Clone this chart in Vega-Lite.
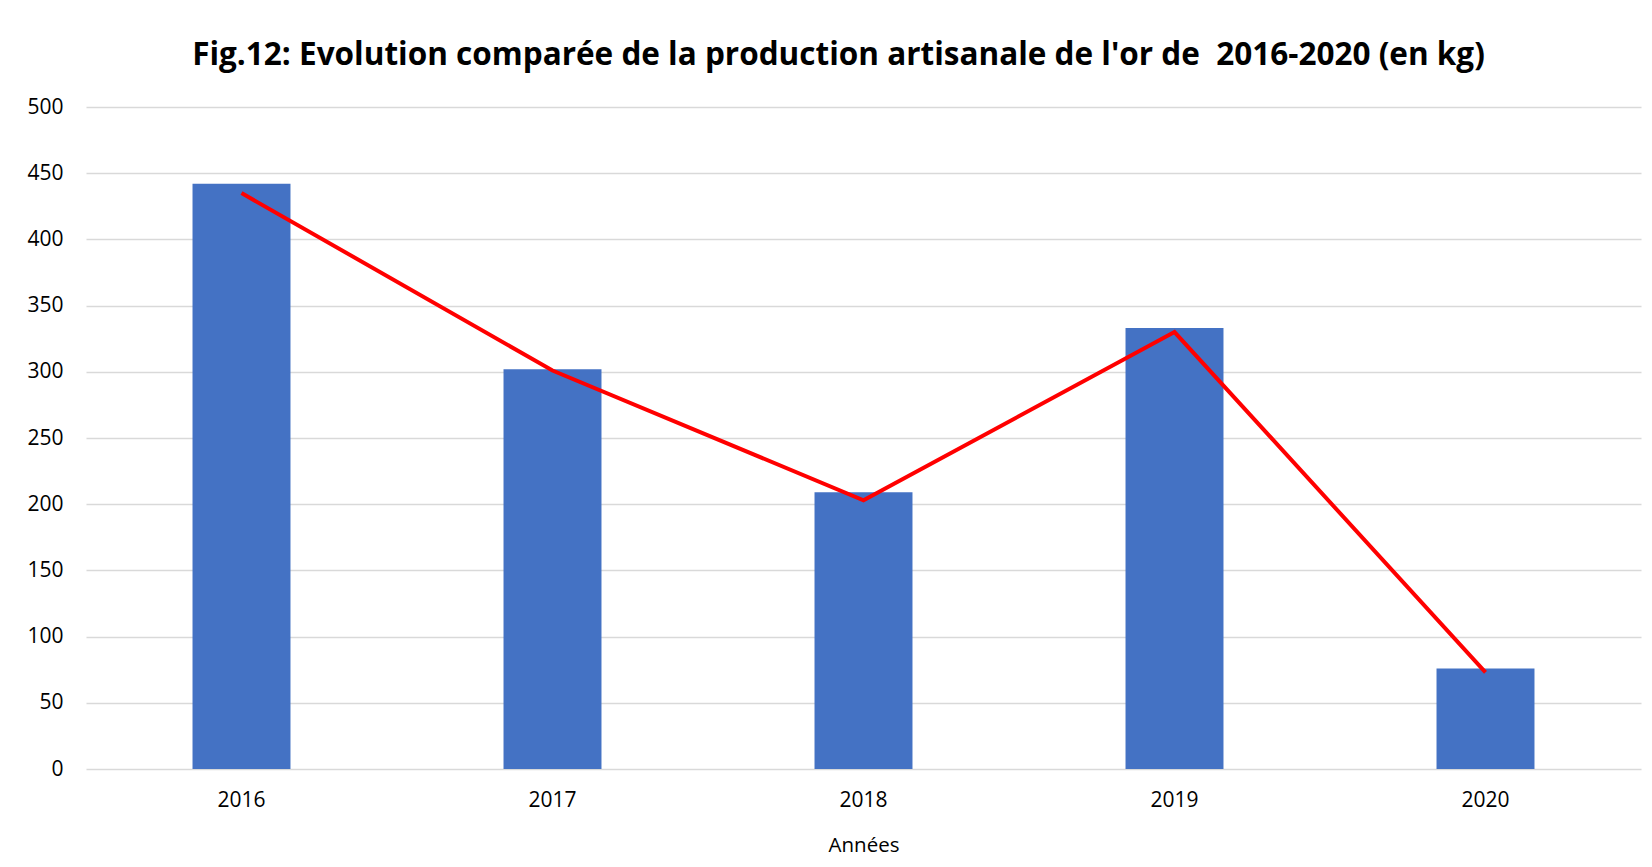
{
  "$schema": "https://vega.github.io/schema/vega-lite/v6.json",
  "autosize": "none",
  "width": 1555,
  "height": 662,
  "padding": {"left": 86, "top": 107, "right": 11, "bottom": 98},
  "background": "white",
  "title": {
    "text": "Fig.12: Evolution comparée de la production artisanale de l'or de \u00a02016-2020 (en kg)",
    "font": "Open Sans",
    "fontSize": 31.5,
    "fontWeight": "bold",
    "color": "#000000",
    "anchor": "middle",
    "dx": -25,
    "offset": 25
  },
  "data": {
    "values": [
      {"annee": "2016", "production": 442, "tendance": 435},
      {"annee": "2017", "production": 302, "tendance": 301},
      {"annee": "2018", "production": 209, "tendance": 203},
      {"annee": "2019", "production": 333, "tendance": 330},
      {"annee": "2020", "production": 76, "tendance": 73}
    ]
  },
  "encoding": {
    "x": {
      "field": "annee",
      "type": "nominal",
      "scale": {"paddingInner": 0.685, "paddingOuter": 0.3425},
      "axis": {
        "title": "Années",
        "labelAngle": 0,
        "labelFont": "Open Sans",
        "labelFontSize": 21,
        "labelColor": "#000000",
        "labelPadding": 20,
        "ticks": false,
        "domain": false,
        "titleFont": "Open Sans",
        "titleFontSize": 20.5,
        "titleFontWeight": "normal",
        "titleColor": "#000000",
        "titlePadding": 25
      }
    }
  },
  "layer": [
    {
      "mark": {"type": "bar", "color": "#4472C4"},
      "encoding": {
        "y": {
          "field": "production",
          "type": "quantitative",
          "scale": {"domain": [0, 500]},
          "axis": {
            "title": null,
            "values": [0, 50, 100, 150, 200, 250, 300, 350, 400, 450, 500],
            "labelFont": "Open Sans",
            "labelFontSize": 21,
            "labelColor": "#000000",
            "labelPadding": 23,
            "ticks": false,
            "domain": false,
            "grid": true,
            "gridColor": "#d9d9d9",
            "gridWidth": 1.5
          }
        }
      }
    },
    {
      "mark": {"type": "line", "color": "#FF0000", "strokeWidth": 4},
      "encoding": {
        "y": {"field": "tendance", "type": "quantitative"}
      }
    }
  ],
  "config": {"view": {"stroke": null}}
}
